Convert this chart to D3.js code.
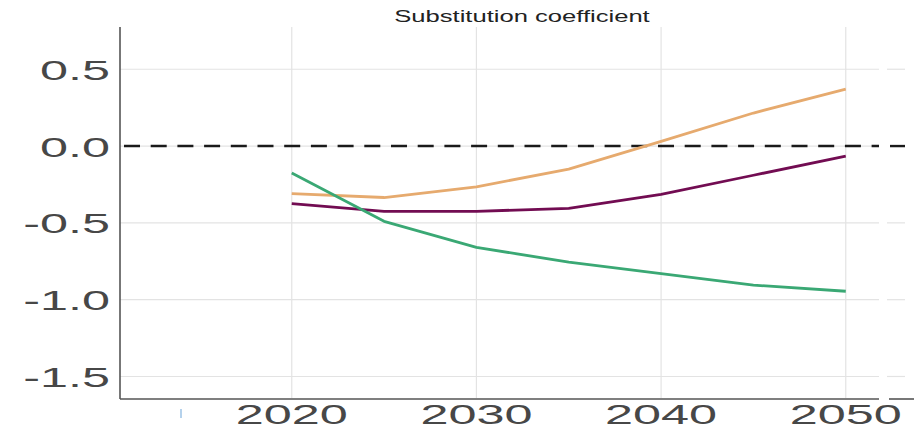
<!DOCTYPE html>
<html>
<head>
<meta charset="utf-8">
<script src="https://cdn.jsdelivr.net/npm/d3@7"></script>
<style>
  html, body { margin: 0; padding: 0; background: #fff; }
  svg { display: block; }
</style>
</head>
<body>
<svg id="chart" width="914" height="431"></svg>
<script>
// Substitution coefficient by scenario, 2020–2050 (5-year steps)
const years = [2020, 2025, 2030, 2035, 2040, 2045, 2050];
const seriesOrange = [-0.31, -0.335, -0.265, -0.15, 0.03, 0.215, 0.37];
const seriesPurple = [-0.375, -0.425, -0.425, -0.405, -0.315, -0.19, -0.065];
const seriesGreen  = [-0.175, -0.49, -0.66, -0.755, -0.83, -0.905, -0.945];

const xTickValues = [2020, 2030, 2040, 2050];
const xTickLabels = ["2020", "2030", "2040", "2050"];
const yTickValues = [-1.5, -1.0, -0.5, 0.0, 0.5];
const yTickLabels = ["-1.5", "-1.0", "-0.5", "0.0", "0.5"];
const titleText = "Substitution coefficient";

const series = [
  { name: "orange", values: seriesOrange, color: "#e6aa6e" },
  { name: "purple", values: seriesPurple, color: "#720c52" },
  { name: "green",  values: seriesGreen,  color: "#3aa874" }
];

const svg = d3.select("#chart");
const panel = { left: 120, right: 879, top: 27, bottom: 398 };

const x = d3.scaleLinear().domain([2010.7, 2051.8]).range([panel.left, panel.right]);
const y = d3.scaleLinear().domain([-1.64, 0.775]).range([panel.bottom, panel.top]);

const gridColor = "#e3e3e3";
const textColor = "#474747";
const stretch = 1.8;
const fontStack = "Liberation Sans, Arial, sans-serif";

// grid
const grid = svg.append("g");
grid.selectAll("line.h").data(yTickValues).join("line")
  .attr("x1", panel.left).attr("x2", panel.right)
  .attr("y1", d => y(d)).attr("y2", d => y(d))
  .attr("stroke", gridColor).attr("stroke-width", 1.2);
grid.selectAll("line.v").data(xTickValues).join("line")
  .attr("x1", d => x(d)).attr("x2", d => x(d))
  .attr("y1", panel.top).attr("y2", panel.bottom)
  .attr("stroke", gridColor).attr("stroke-width", 1.2);

// neighbouring panel edge on the right
const side = { left: 887, right: 905 };
grid.selectAll("line.hs").data(yTickValues.filter(v => v !== 0)).join("line")
  .attr("x1", side.left).attr("x2", side.right)
  .attr("y1", d => y(d)).attr("y2", d => y(d))
  .attr("stroke", gridColor).attr("stroke-width", 1.2);

// zero reference line
svg.append("line")
  .attr("x1", panel.left + 4).attr("x2", panel.right)
  .attr("y1", y(0)).attr("y2", y(0))
  .attr("stroke", "#1a1a1a").attr("stroke-width", 2.4)
  .attr("stroke-dasharray", "16,10.7");
svg.append("line")
  .attr("x1", side.left + 3).attr("x2", side.right)
  .attr("y1", y(0)).attr("y2", y(0))
  .attr("stroke", "#1a1a1a").attr("stroke-width", 2.4);

// series lines
const line = d3.line().x((d, i) => x(years[i])).y(d => y(d));
svg.append("g").selectAll("path").data(series).join("path")
  .attr("d", d => line(d.values))
  .attr("fill", "none")
  .attr("stroke", d => d.color)
  .attr("stroke-width", 2.8)
  .attr("stroke-linejoin", "round");

// axes
const yAxis = d3.axisLeft(y).tickValues(yTickValues)
  .tickFormat((d, i) => yTickLabels[i]).tickSize(0).tickPadding(10);
const gy = svg.append("g").attr("transform", `translate(${panel.left},0)`).call(yAxis);
gy.select(".domain").remove();
gy.selectAll("text")
  .attr("x", -10 / stretch)
  .attr("dy", "0.36em")
  .attr("transform", `scale(${stretch},1)`)
  .style("font-family", fontStack)
  .style("font-size", "28px")
  .attr("fill", textColor);

const xAxis = d3.axisBottom(x).tickValues(xTickValues)
  .tickFormat((d, i) => xTickLabels[i]).tickSize(0).tickPadding(6);
const gx = svg.append("g").attr("transform", `translate(0,${panel.bottom + 1})`).call(xAxis);
gx.select(".domain").remove();
gx.selectAll(".tick text")
  .attr("transform", `scale(${stretch},1)`)
  .style("font-family", fontStack)
  .style("font-size", "28px")
  .attr("fill", textColor);
gx.selectAll(".tick").each(function(d) {
  const t = d3.select(this);
  t.attr("transform", `translate(${x(d)},0)`);
  t.select("text").attr("x", 0).attr("y", 5);
});

// axis lines
svg.append("line")
  .attr("x1", panel.left).attr("x2", panel.left)
  .attr("y1", panel.top).attr("y2", panel.bottom + 1)
  .attr("stroke", "#555").attr("stroke-width", 1.6);
svg.append("line")
  .attr("x1", panel.left).attr("x2", panel.right)
  .attr("y1", panel.bottom + 1).attr("y2", panel.bottom + 1)
  .attr("stroke", "#555").attr("stroke-width", 1.6);
svg.append("line")
  .attr("x1", side.left + 2).attr("x2", 914)
  .attr("y1", panel.bottom + 1).attr("y2", panel.bottom + 1)
  .attr("stroke", "#555").attr("stroke-width", 1.6);

// small stray tick below the axis
svg.append("line")
  .attr("x1", 181).attr("x2", 181).attr("y1", 409).attr("y2", 418)
  .attr("stroke", "#9cc3e6").attr("stroke-width", 1.5);

// title
svg.append("text")
  .attr("x", 522 / 1.6).attr("y", 22)
  .attr("transform", "scale(1.6,1)")
  .attr("text-anchor", "middle")
  .style("font-family", fontStack)
  .style("font-size", "16px")
  .attr("fill", "#222")
  .text(titleText);
</script>
</body>
</html>
